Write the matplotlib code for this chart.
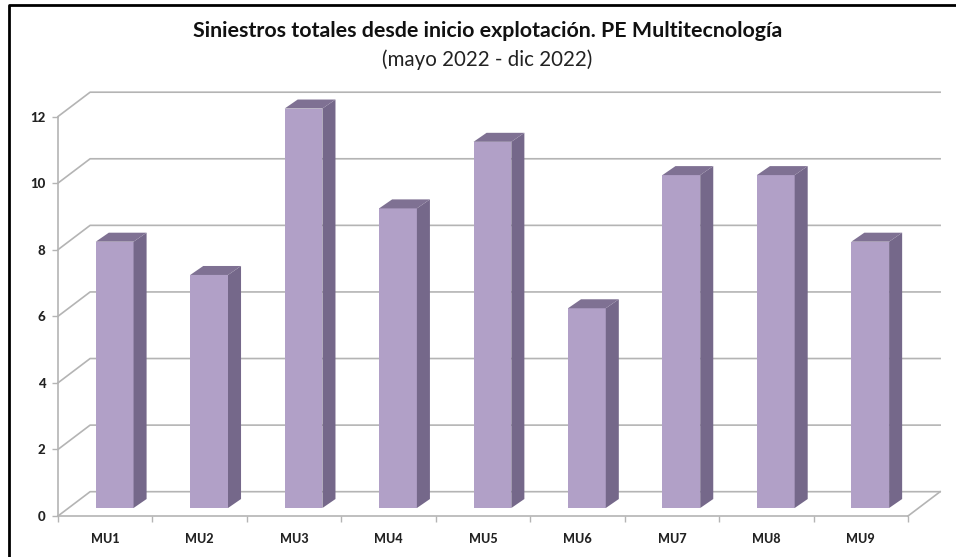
import matplotlib
matplotlib.use('Agg')
import matplotlib.pyplot as plt
from matplotlib.lines import Line2D
from matplotlib.patches import Polygon
import numpy as np

# Datos del grafico
categorias = ['MU1', 'MU2', 'MU3', 'MU4', 'MU5', 'MU6', 'MU7', 'MU8', 'MU9']
siniestros = [8, 7, 12, 9, 11, 6, 10, 10, 8]
marcas_y = [0, 2, 4, 6, 8, 10, 12]

plt.rcParams['font.family'] = ['Lato', 'DejaVu Sans']

ANCHO, ALTO = 956, 557
fig = plt.figure(figsize=(ANCHO / 100, ALTO / 100), dpi=100)

# Eje frontal: x de 58 a 908 px, valor 0 en y=516 px y valor 12 en y=116.5 px
ax = fig.add_axes([58 / ANCHO, 1 - 516 / ALTO, 850 / ANCHO, 399.5 / ALTO])
ax.set_xlim(0, len(categorias))
ax.set_ylim(0, 12)

# Desplazamiento de la pared de fondo y de la perspectiva de las barras
fondo_x, fondo_y = 0.34, 0.73
base_x, base_y = 0.10, 0.24
prof_x, prof_y = 0.138, 0.27
ancho_barra = 0.40

color_rejilla = '#b4b4b4'
color_frente = '#b1a0c7'
color_lado = '#75688a'
color_tapa = '#7f7193'

# Rejilla en perspectiva
for v in marcas_y:
    ax.plot([0, fondo_x, len(categorias) + fondo_x], [v, v + fondo_y, v + fondo_y],
            color=color_rejilla, lw=1.2, clip_on=False, zorder=1)
ax.plot([len(categorias), len(categorias) + fondo_x], [0, fondo_y],
        color=color_rejilla, lw=1.2, clip_on=False, zorder=1)

# Barras: cara frontal, lateral y tapa
x = np.arange(len(categorias)) + 0.5 + base_x
ax.bar(x, siniestros, width=ancho_barra, bottom=base_y, color=color_frente, zorder=3, clip_on=False)
for xi, v in zip(x, siniestros):
    izq = xi - ancho_barra / 2
    der = xi + ancho_barra / 2
    arriba = v + base_y
    ax.add_patch(Polygon([(der, base_y), (der + prof_x, base_y + prof_y),
                          (der + prof_x, arriba + prof_y), (der, arriba)],
                         color=color_lado, lw=0, zorder=3, clip_on=False))
    ax.add_patch(Polygon([(izq, arriba), (izq + prof_x, arriba + prof_y),
                          (der + prof_x, arriba + prof_y), (der, arriba)],
                         color=color_tapa, lw=0, zorder=3, clip_on=False))

# Ejes
for lado in ['top', 'right']:
    ax.spines[lado].set_visible(False)
for lado in ['left', 'bottom']:
    ax.spines[lado].set_color(color_rejilla)
    ax.spines[lado].set_linewidth(1.2)
ax.patch.set_alpha(0)
ax.set_yticks(marcas_y, [str(m) for m in marcas_y], fontweight='black')
ax.set_xticks(np.arange(len(categorias) + 1))
ax.set_xticklabels([])
ax.set_xticks(np.arange(len(categorias)) + 0.5, categorias, minor=True, fontweight='black')
ax.tick_params(axis='x', which='major', length=4, color=color_rejilla, width=1)
ax.tick_params(axis='x', which='minor', length=0, pad=12, labelsize=9, labelcolor='#222222')
ax.tick_params(axis='y', length=4, color=color_rejilla, width=1, pad=5, labelsize=9.5, labelcolor='#222222')

# Titulo
fig.text(488 / ANCHO, 1 - 31 / ALTO, 'Siniestros totales desde inicio explotación. PE Multitecnología',
         ha='center', va='center', fontsize=15.4, fontweight='bold', color='#111111')
fig.text(487.5 / ANCHO, 1 - 60 / ALTO, '(mayo 2022 - dic 2022)',
         ha='center', va='center', fontsize=14.8, color='#222222')

# Marco negro: solo arriba y a la izquierda
fig.add_artist(Line2D([8.5 / ANCHO, 8.5 / ANCHO, 1], [0, 1 - 4.5 / ALTO, 1 - 4.5 / ALTO],
                      transform=fig.transFigure, color='black', lw=2))

fig.savefig('out.png', dpi=100)
